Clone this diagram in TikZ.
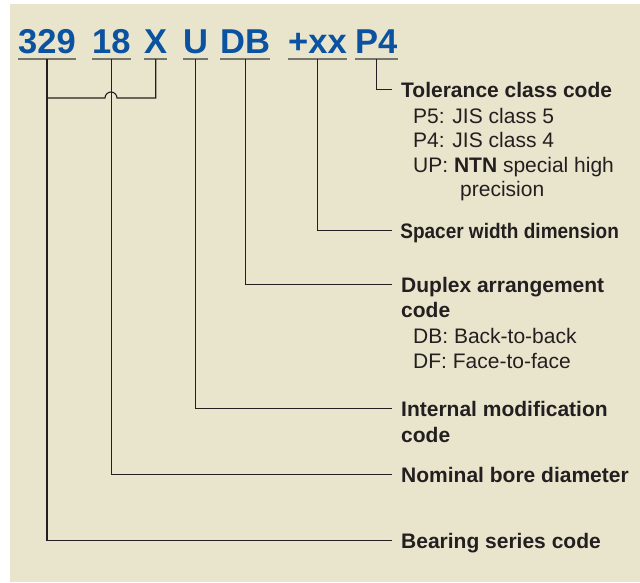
\documentclass[tikz,border=0pt]{standalone}
\usepackage{fontspec}
\setmainfont{Liberation Sans}

\definecolor{ntnblue}{HTML}{0B52A0}
\definecolor{panel}{HTML}{E9E5CD}
\definecolor{txtdark}{HTML}{231F20}
\definecolor{ulgray}{HTML}{76766A}

\tikzset{
	code/.style={anchor=base west, inner sep=0pt, text=ntnblue,
		font=\fontsize{34.5}{36}\selectfont\bfseries},
	uline/.style={draw=ulgray, line width=2pt},
	lead/.style={draw=txtdark, line width=1.1pt},
	title/.style={anchor=base west, inner xsep=9pt, inner ysep=0pt,
		text height=15pt, text depth=0pt, text=txtdark,
		font=\fontsize{21}{25}\selectfont\bfseries},
	item/.style={anchor=base west, inner sep=0pt, text=txtdark,
		font=\fontsize{21}{25}\selectfont},
}

\begin{document}
\begin{tikzpicture}[x=1pt,y=-1pt]
%
	\useasboundingbox (0,0) rectangle (640,582);
	\fill[panel] (10,4) rectangle (640,582);
%
	% the bearing number
	\node[code] (n329) at (18,53) {329};
	\node[code] (n18) at (92,53) {18};
	\node[code] (nX) at (144,53) {X};
	\node[code] (nU) at (183,53) {U};
	\node[code] (nDB) at (220,53) {DB};
	\node[code] (nxx) at (288,53) {+xx};
	\node[code] (nP4) at (355,53) {P4};
	\foreach \c in {n329,n18,nX,nU,nDB,nxx,nP4} {
		\draw[uline] (\c.west |- 0,59) -- (\c.east |- 0,59);
		\coordinate (\c u) at (\c.center |- 0,59);
	}
%
	% the explanations
	\node[title] (tol) at (392,97) {Tolerance class code};
	\node[item] (p5) at (413,123) {P5: JIS class 5};
	\node[item] (p4) at (413,147.5) {P4: JIS class 4};
	\node[item] (up) at (413,172) {UP: \textbf{NTN} special high};
	\node[item] (prec) at (460,196) {precision};
	\node[title, transform shape, xscale=0.905] (spacer) at (392,238) {Spacer width dimension};
	\node[title] (duplex) at (392,292) {Duplex arrangement};
	\node[title] (duplex2) at (392,317) {code};
	\node[item] (db) at (413,343) {DB: Back-to-back};
	\node[item] (df) at (413,368) {DF: Face-to-face};
	\node[title] (internal) at (392,416) {Internal modification};
	\node[title] (internal2) at (392,442) {code};
	\node[title] (bore) at (392,482) {Nominal bore diameter};
	\node[title] (series) at (392,548) {Bearing series code};
%
	% leaders
	\draw[lead] (nP4u) |- (tol.west);
	\draw[lead] (nxxu) |- (spacer.west);
	\draw[lead] (nDBu) |- (duplex.west);
	\draw[lead] (nUu) |- (internal.west);
	\draw[lead] (n18u) |- (bore.west);
	\draw[lead] (n329u) |- (series.west);
	\draw[lead] (nXu) -- (nXu |- 0,98) -- (117,98)
		arc[start angle=0, end angle=-180, radius=6] -- (n329u |- 0,98);
%
\end{tikzpicture}
\end{document}
